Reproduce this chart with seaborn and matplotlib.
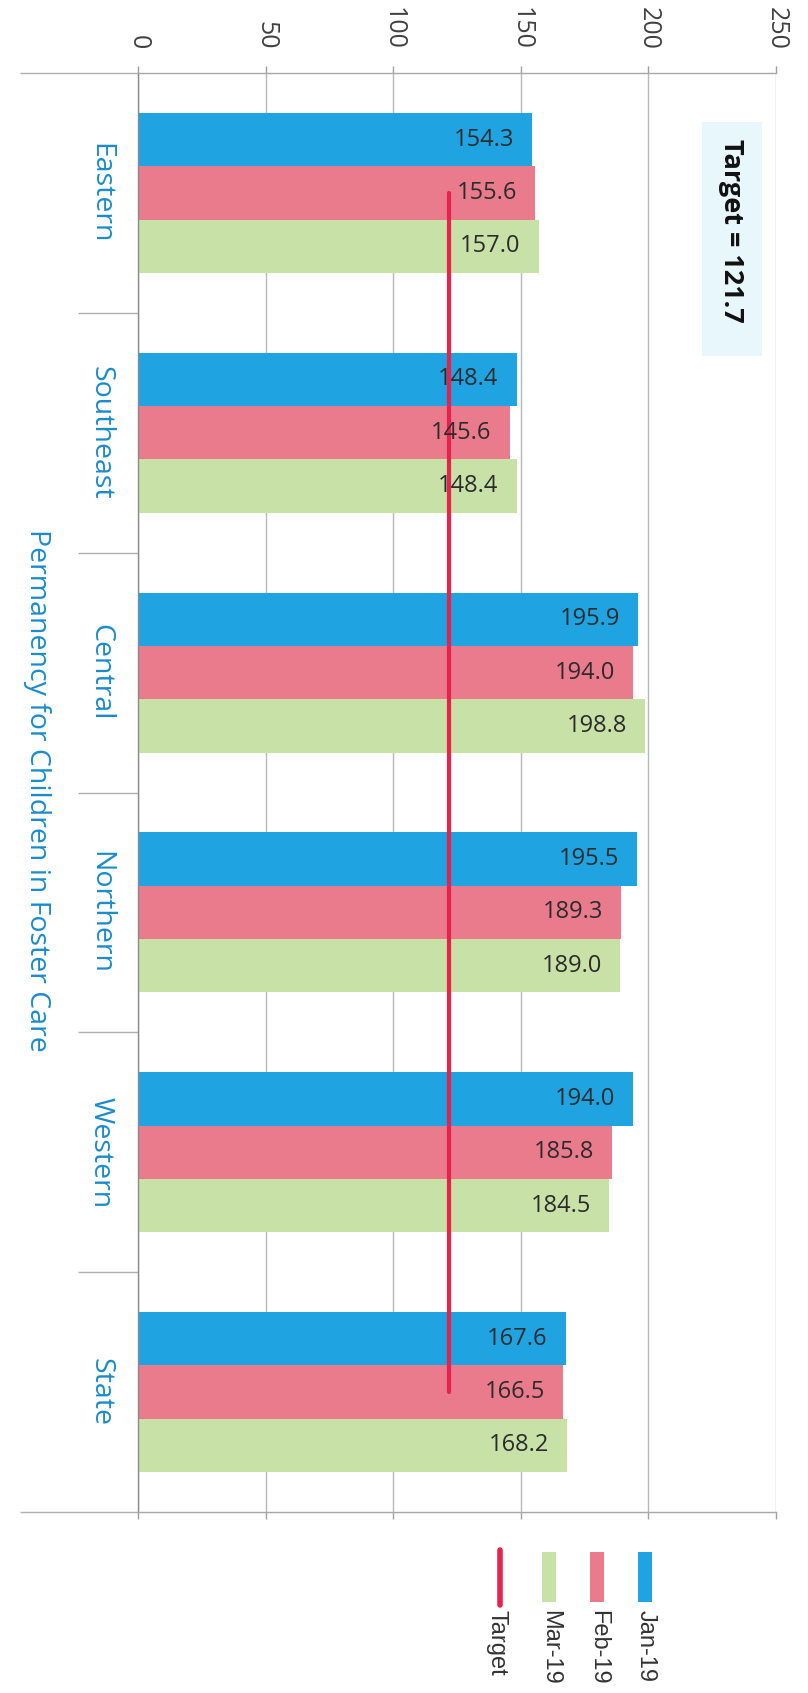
import matplotlib
matplotlib.use("Agg")
import matplotlib.pyplot as plt
import seaborn as sns
import pandas as pd
import numpy as np
from matplotlib.patches import Rectangle
from matplotlib.lines import Line2D
from matplotlib.ticker import NullFormatter

# ---------------- data ----------------
regions = ["Eastern", "Southeast", "Central", "Northern", "Western", "State"]
months = ["Jan-19", "Feb-19", "Mar-19"]
jan_vals = [154.3, 148.4, 195.9, 195.5, 194.0, 167.6]
feb_vals = [155.6, 145.6, 194.0, 189.3, 185.8, 166.5]
mar_vals = [157.0, 148.4, 198.8, 189.0, 184.5, 168.2]
target_vals = [121.7, 121.7, 121.7, 121.7, 121.7, 121.7]
x_ticks = [0, 50, 100, 150, 200, 250]
x_tick_labels = ["0", "50", "100", "150", "200", "250"]
target_label = "Target = 121.7"
target_name = "Target"
axis_title = "Permanency for Children in Foster Care"

# ---------------- style ----------------
palette = {"Jan-19": "#1fa3e1", "Feb-19": "#e97b8c", "Mar-19": "#c7e1a7"}
target_color = "#e8214d"
cat_color = "#1b8bcb"

sns.set_theme(style="white")
plt.rcParams["font.family"] = ["Open Sans", "DejaVu Sans"]

df = pd.DataFrame({
    "Region": regions * 3,
    "Month": [m for m in months for _ in regions],
    "Value": jan_vals + feb_vals + mar_vals,
})

W, H = 808, 1693
fig = plt.figure(figsize=(W / 100, H / 100), dpi=100)
fig.patch.set_facecolor("white")


def fx(px):
    return px / W


def fy(py):
    return 1 - py / H


ax_left, ax_right, ax_top, ax_bottom = 138, 776, 73, 1512
ax = fig.add_axes([fx(ax_left), fy(ax_bottom),
                   (ax_right - ax_left) / W, (ax_bottom - ax_top) / H])

sns.barplot(data=df, x="Value", y="Region", hue="Month", order=regions,
            hue_order=months, palette=palette, orient="h", width=0.667,
            saturation=1, errorbar=None, linewidth=0, legend=False, ax=ax)

# target line (drawn through category centres)
ax.plot(target_vals, np.arange(len(regions)), color=target_color, lw=3,
        solid_capstyle="round", zorder=5)

ax.set_xlim(0, 250)
ax.set_ylim(len(regions) - 0.5, -0.5)
ax.set_xlabel("")
ax.set_ylabel("")

# value axis: tick marks top and bottom; numbers written above the top edge
ax.set_xticks(x_ticks)
ax.xaxis.set_major_formatter(NullFormatter())
ax.tick_params(axis="x", which="major", top=True, bottom=True, labeltop=False,
               labelbottom=False, length=5, width=1, color="#a0a0a0")
for v, s in zip(x_ticks, x_tick_labels):
    ax.annotate(s, xy=(v, 1.0), xycoords=("data", "axes fraction"),
                xytext=(0, 17), textcoords="offset points", rotation=-90,
                ha="center", va="bottom", fontsize=18, color="#404040",
                annotation_clip=False)

ax.grid(axis="x", color="#b8b8b8", lw=1)
ax.grid(axis="y", visible=False)
ax.set_axisbelow(True)

# category axis
ax.set_yticks(np.arange(-0.5, len(regions), 1), minor=True)
ax.tick_params(axis="y", which="major", length=0, pad=17, labelsize=20.5,
               labelcolor=cat_color)
ax.tick_params(axis="y", which="minor", left=True, length=43, width=1,
               color="#b0b0b0")
minor_ticks = ax.yaxis.get_minor_ticks()
for mt in (minor_ticks[0], minor_ticks[-1]):
    mt.tick1line.set_markersize(85)
for lab in ax.get_yticklabels():
    lab.set_rotation(-90)
    lab.set_va("center")
    lab.set_ha("right")

for s in ["top", "bottom"]:
    ax.spines[s].set_color("#a8a8a8")
    ax.spines[s].set_linewidth(1)
ax.spines["left"].set_color("#8a8a8a")
ax.spines["left"].set_linewidth(1)
ax.spines["right"].set_visible(False)

# value labels inside bar ends
for cont in ax.containers:
    labs = ax.bar_label(cont, fmt="%.1f", padding=-13, fontsize=17,
                        color="#2b2b2b")
    for t in labs:
        t.set_ha("right")
        t.set_zorder(6)

# target annotation box
fig.patches.append(Rectangle((fx(702), fy(356)), (762 - 702) / W,
                             (356 - 122) / H, transform=fig.transFigure,
                             facecolor="#e7f7fc", edgecolor="none", zorder=0))
fig.text(fx(731), fy(231), target_label, rotation=-90, ha="center",
         va="center", fontsize=19.5, fontweight="bold", color="#111111")

# axis title
fig.text(fx(37), fy(790), axis_title, rotation=-90, ha="center", va="center",
         fontsize=20.5, color=cat_color)

# legend (rotated like the rest of the page)
leg_x = {"Jan-19": 645, "Feb-19": 597, "Mar-19": 549}
for m in months:
    x0 = leg_x[m]
    fig.patches.append(Rectangle((fx(x0 - 7), fy(1602)), 14 / W, 50 / H,
                                 transform=fig.transFigure,
                                 facecolor=palette[m], edgecolor="none"))
    fig.text(fx(x0 + 1), fy(1610), m, rotation=-90, ha="center", va="top",
             fontsize=17, color="#333333", family="Liberation Sans")
fig.lines.append(Line2D([fx(500), fx(500)], [fy(1550), fy(1605)],
                        transform=fig.transFigure, color=target_color, lw=4,
                        solid_capstyle="round"))
fig.text(fx(497), fy(1610), target_name, rotation=-90, ha="center", va="top",
         fontsize=17, color="#333333", family="Liberation Sans")

fig.savefig("out.png", dpi=100, facecolor="white")
